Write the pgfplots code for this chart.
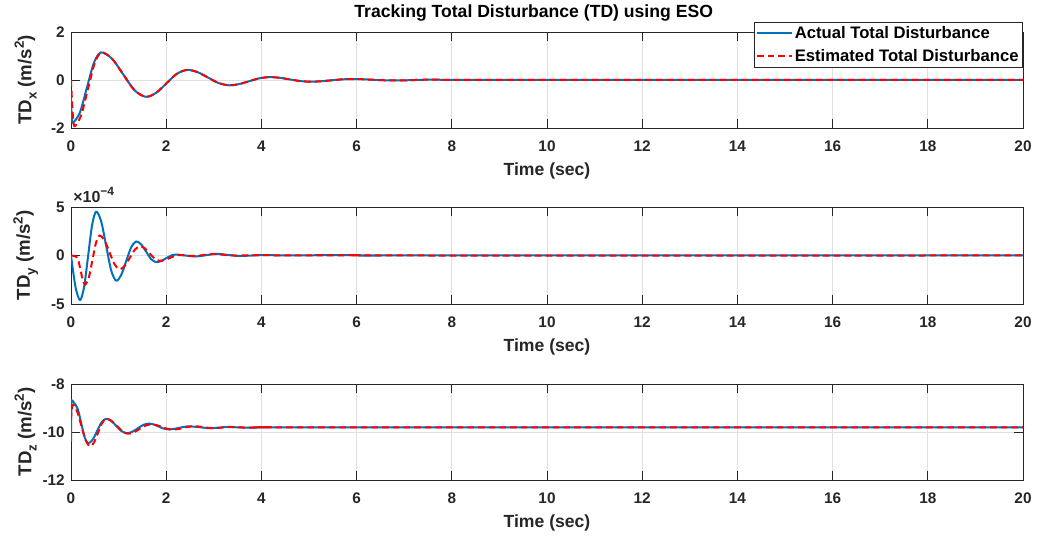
\documentclass[border=0pt]{standalone}
\usepackage{pgfplots}
\pgfplotsset{compat=1.18}
\usepackage{fontspec}
\setmainfont{Liberation Sans}

\definecolor{mblue}{rgb}{0,0.447,0.741}
\definecolor{mred}{rgb}{1,0,0}
\definecolor{axgray}{gray}{0.15}
\definecolor{gridgray}{gray}{0.88}

% axis label: TD with lowered subscript, unit m/s^2
\newcommand\tdlabel[1]{TD\raisebox{-0.55ex}{\fontsize{10}{10}\selectfont #1}\ (m/s\raisebox{0.75ex}{\fontsize{10}{10}\selectfont 2})}

% Actual and estimated total disturbance, x channel (m/s^2)
\pgfplotstableread{
t v
0 -0.6
0.015 -1.5
0.04 -1.78
0.1875 -1.351
0.335 -0.315
0.4825 0.721
0.63 1.15
0.865 0.88
1.1 0.225
1.335 -0.429
1.57 -0.70
1.7875 -0.536
2.005 -0.14
2.2225 0.256
2.44 0.42
2.66 0.326
2.88 0.10
3.10 -0.126
3.32 -0.22
3.5325 -0.170
3.745 -0.05
3.9575 0.070
4.17 0.12
4.3825 0.092
4.595 0.025
4.8075 -0.042
5.02 -0.07
5.24 -0.054
5.46 -0.015
5.68 0.024
5.90 0.04
6.125 0.031
6.35 0.01
6.575 -0.011
6.80 -0.02
7.0 -0.015
7.2 -0.002
7.4 0.01
7.6 0.013
8.0 0.005
8.5 0
10 0
20 0
}\tdxact
\pgfplotstableread{
t v
0 0
0.03 -1.2
0.07 -1.92
0.2125 -1.47
0.355 -0.385
0.4975 0.70
0.64 1.15
0.865 0.88
1.1 0.225
1.335 -0.429
1.57 -0.70
1.7875 -0.536
2.005 -0.14
2.2225 0.256
2.44 0.42
2.66 0.326
2.88 0.10
3.10 -0.126
3.32 -0.22
3.5325 -0.170
3.745 -0.05
3.9575 0.070
4.17 0.12
4.3825 0.092
4.595 0.025
4.8075 -0.042
5.02 -0.07
5.24 -0.054
5.46 -0.015
5.68 0.024
5.90 0.04
6.125 0.031
6.35 0.01
6.575 -0.011
6.80 -0.02
7.0 -0.015
7.2 -0.002
7.4 0.01
7.6 0.013
8.0 0.005
8.5 0
10 0
20 0
}\tdxest

% y channel
\pgfplotstableread{
t v
0 0
0.095 -3.25e-4
0.19 -4.6e-4
0.275 -3.26e-4
0.36 -0.035e-4
0.445 3.19e-4
0.53 4.53e-4
0.635 3.49e-4
0.74 0.965e-4
0.845 -1.555e-4
0.95 -2.6e-4
1.055 -2.007e-4
1.16 -0.575e-4
1.265 0.857e-4
1.37 1.45e-4
1.475 1.137e-4
1.58 0.38e-4
1.685 -0.377e-4
1.79 -0.69e-4
1.89 -0.574e-4
1.995 -0.295e-4
2.10 -0.016e-4
2.2 0.1e-4
2.4 0.0
2.6 -0.1e-4
2.8 0.0
3.05 0.18e-4
3.3 0.05e-4
3.55 -0.05e-4
3.8 0.0
4.1 0.04e-4
4.5 0.0
5.0 0.02e-4
5.5 0.04e-4
6.0 0.03e-4
6.5 0.0
7.0 0.0
20 0
}\tdyact
\pgfplotstableread{
t v
0 0
0.1 -0.1e-4
0.15 -0.44e-4
0.2 -1.5e-4
0.25 -2.56e-4
0.3 -3.0e-4
0.375 -2.26e-4
0.45 -0.475e-4
0.525 1.31e-4
0.6 2.05e-4
0.705 1.54e-4
0.81 0.315e-4
0.915 -0.91e-4
1.02 -1.42e-4
1.1275 -1.073e-4
1.235 -0.235e-4
1.3425 0.603e-4
1.45 0.95e-4
1.5525 0.73e-4
1.655 0.2e-4
1.7575 -0.33e-4
1.86 -0.55e-4
1.97 -0.46e-4
2.08 -0.25e-4
2.19 -0.04e-4
2.3 0.05e-4
2.6 -0.05e-4
3.0 0.15e-4
3.4 0.0
4.0 0.03e-4
5 0
6 0.03e-4
7 0
20 0
}\tdyest

% z channel
\pgfplotstableread{
t v
0 -10.4
0.008 -8.66
0.04 -8.72
0.07 -8.8
}\tdzspike
\pgfplotstableread{
t v
0.07 -8.8
0.1425 -9.045
0.215 -9.635
0.2875 -10.225
0.36 -10.47
0.454 -10.32
0.548 -9.96
0.641 -9.60
0.735 -9.45
0.844 -9.538
0.9525 -9.75
1.061 -9.962
1.17 -10.05
1.285 -9.991
1.40 -9.85
1.515 -9.709
1.63 -9.65
1.735 -9.685
1.84 -9.77
1.945 -9.855
2.05 -9.89
2.17 -9.87
2.28 -9.825
2.39 -9.78
2.5 -9.765
2.7 -9.80
2.9 -9.84
3.1 -9.82
3.3 -9.79
3.7 -9.82
4.2 -9.80
5 -9.81
20 -9.81
}\tdzact
\pgfplotstableread{
t v
0 -9.5
0.035 -8.87
0.126 -9.123
0.2175 -9.735
0.309 -10.347
0.40 -10.6
0.485 -10.43
0.57 -10.025
0.655 -9.62
0.74 -9.45
0.855 -9.541
0.97 -9.76
1.085 -9.979
1.2 -10.07
1.32 -10.013
1.44 -9.875
1.56 -9.737
1.68 -9.68
1.795 -9.712
1.91 -9.79
2.025 -9.868
2.14 -9.9
2.3 -9.86
2.45 -9.79
2.6 -9.76
2.8 -9.80
2.95 -9.84
3.15 -9.82
3.35 -9.79
3.75 -9.82
4.2 -9.80
5 -9.81
20 -9.81
}\tdzest

\pgfplotsset{
  tdpanel/.style={
    scale only axis,
    width=714pt,
    xmin=0, xmax=20,
    xtick={0,2,...,20},
    axis line style={axgray, line width=0.6pt},
    tick style={axgray, line width=0.6pt},
    major tick length=6.5pt,
    tick align=inside,
    xtick pos=both, ytick pos=both,
    grid=major,
    major grid style={gridgray, line width=0.5pt},
    /pgf/number format/assume math mode=true,
    ticklabel style={font=\bfseries\fontsize{11.5}{13}\selectfont, text=black!85},
    xticklabel style={inner sep=0pt, anchor=north, yshift=-9.5pt},
    yticklabel style={inner sep=0pt, anchor=east, xshift=-4.5pt},
    xlabel={Time (sec)},
    every axis x label/.style={at={(axis description cs:0.5,0)}, anchor=center,
      yshift=-32.5pt, font=\bfseries\fontsize{13.2}{15}\selectfont, text=black!85},
    every axis y label/.style={at={(axis description cs:0,0.5)}, xshift=-34pt,
      rotate=90, anchor=center, font=\bfseries\fontsize{14}{16}\selectfont, text=black!85},
    clip mode=individual,
  },
  act/.style={mblue, line width=1.5pt, line join=round},
  est/.style={mred, line width=1.5pt, dash pattern=on 5pt off 3pt},
}

\begin{document}
\begin{tikzpicture}
\path[use as bounding box] (0,0) rectangle (778.5pt,403.5pt);

% x channel, with legend and title
\begin{axis}[tdpanel,
  at={(53.25pt,307.5pt)}, anchor=south west, height=72pt,
  ymin=-2, ymax=2, ytick={-2,0,2},
  ylabel={\tdlabel{x}},
  legend cell align=left,
  legend image code/.code={\draw[#1] (0pt,0pt) -- (26pt,0pt);},
  legend style={at={(1,1)}, anchor=north east, yshift=7.5pt, xshift=0pt,
    draw=axgray, line width=0.6pt, fill=white,
    font=\bfseries\fontsize{12.5}{14}\selectfont, text=black,
    inner sep=1.5pt, row sep=3.5pt,
    nodes={inner sep=1.5pt}},
]
\addplot[act, smooth] table[x=t, y=v] {\tdxact};
\addlegendentry{Actual Total Disturbance}
\addplot[est, smooth] table[x=t, y=v] {\tdxest};
\addlegendentry{Estimated Total Disturbance}
\node[font=\bfseries\fontsize{13.2}{15}\selectfont, text=black, anchor=center, inner sep=0pt]
  at (axis description cs:0.5,1) [xshift=-10pt, yshift=14.25pt] {Tracking Total Disturbance (TD) using ESO};
\end{axis}

% y channel
\begin{axis}[tdpanel,
  at={(53.25pt,175.5pt)}, anchor=south west, height=72.75pt,
  ymin=-5e-4, ymax=5e-4, ytick={-5e-4,0,5e-4}, yticklabels={-5,0,5},
  scaled y ticks=false,
  ylabel={\tdlabel{y}},
]
\addplot[act, smooth] table[x=t, y=v] {\tdyact};
\addplot[est, smooth] table[x=t, y=v] {\tdyest};
\node[font=\bfseries\fontsize{12}{13}\selectfont, text=black!85, anchor=south west, inner sep=0pt]
  at (axis description cs:0,1) [xshift=1.5pt, yshift=3pt] {×10\raisebox{0.8ex}{\fontsize{9}{9}\selectfont −4}};
\end{axis}

% z channel
\begin{axis}[tdpanel,
  at={(53.25pt,43.5pt)}, anchor=south west, height=72pt,
  ymin=-12, ymax=-8, ytick={-12,-10,-8},
  ylabel={\tdlabel{z}},
]
\addplot[act] table[x=t, y=v] {\tdzspike};
\addplot[act, smooth] table[x=t, y=v] {\tdzact};
\addplot[est, smooth] table[x=t, y=v] {\tdzest};
\end{axis}
\end{tikzpicture}
\end{document}
